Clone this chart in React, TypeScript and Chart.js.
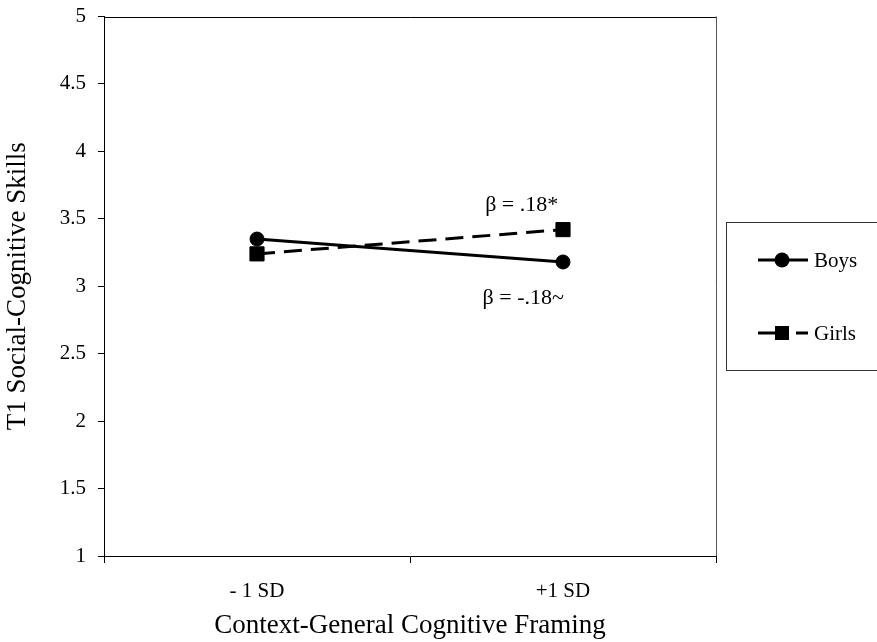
import React, { useEffect, useRef } from "react";
import { Chart, registerables } from "chart.js";

Chart.register(...registerables);

// ---- Data ----
const categories = ["- 1 SD", "+1 SD"];
const seriesLabels = ["Boys", "Girls"];
const boysValues = [3.35, 3.18];
const girlsValues = [3.24, 3.42];
const yMin = 1;
const yMax = 5;
const yStep = 0.5;
const xTitle = "Context-General Cognitive Framing";
const yTitle = "T1 Social-Cognitive Skills";
// annotation text placed in data coordinates (category index, y value)
const annotationTexts = ["β = .18*", "β = -.18~"];
const annotationX = [0.865, 0.87];
const annotationY = [3.6, 2.91];

const FONT = "'Liberation Serif', 'Times New Roman', serif";

export default function App() {
  const canvasRef = useRef<HTMLCanvasElement | null>(null);

  useEffect(() => {
    const canvas = canvasRef.current;
    if (!canvas) return;

    const framePlugin = {
      id: "frame",
      beforeDatasetsDraw(chart: any) {
        const { ctx, chartArea } = chart;
        ctx.save();
        ctx.strokeStyle = "#000";
        ctx.lineWidth = 1;
        ctx.beginPath();
        ctx.moveTo(chartArea.left, Math.round(chartArea.top) + 0.5);
        ctx.lineTo(chartArea.right + 0.5, Math.round(chartArea.top) + 0.5);
        ctx.stroke();
        ctx.strokeStyle = "#555";
        ctx.beginPath();
        ctx.moveTo(chartArea.right + 0.5, chartArea.top);
        ctx.lineTo(chartArea.right + 0.5, chartArea.bottom);
        ctx.stroke();
        ctx.restore();
      },
    };

    const annotationPlugin = {
      id: "betaText",
      afterDatasetsDraw(chart: any) {
        const { ctx, scales } = chart;
        const xs = scales.x;
        const ys = scales.y;
        ctx.save();
        ctx.fillStyle = "#000";
        ctx.font = `22px ${FONT}`;
        ctx.textAlign = "center";
        ctx.textBaseline = "middle";
        annotationTexts.forEach((t, i) => {
          const p0 = xs.getPixelForValue(0);
          const p1 = xs.getPixelForValue(1);
          const x = p0 + (p1 - p0) * annotationX[i];
          const y = ys.getPixelForValue(annotationY[i]);
          ctx.fillText(t, x, y);
        });
        ctx.restore();
      },
    };

    const legendPlugin = {
      id: "boxLegend",
      afterDraw(chart: any) {
        const { ctx } = chart;
        const boxLeft = 726.5;
        const boxTop = 222.5;
        const boxBottom = 370.5;
        ctx.save();
        ctx.strokeStyle = "#333";
        ctx.lineWidth = 1;
        ctx.strokeRect(boxLeft, boxTop, 900 - boxLeft, boxBottom - boxTop);
        const rows = [260, 333];
        chart.data.datasets.forEach((ds: any, i: number) => {
          const y = rows[i];
          const x0 = 758;
          const x1 = 808;
          const xm = 782;
          ctx.strokeStyle = "#000";
          ctx.fillStyle = "#000";
          ctx.lineWidth = 3;
          ctx.beginPath();
          if (ds.borderDash && ds.borderDash.length) {
            ctx.moveTo(x0, y);
            ctx.lineTo(xm - 4, y);
            ctx.moveTo(xm + 14, y);
            ctx.lineTo(x1, y);
          } else {
            ctx.moveTo(x0, y);
            ctx.lineTo(x1, y);
          }
          ctx.stroke();
          if (ds.pointStyle === "rect") {
            ctx.fillRect(xm - 7, y - 7, 14, 14);
          } else {
            ctx.beginPath();
            ctx.arc(xm, y, 7.5, 0, Math.PI * 2);
            ctx.fill();
          }
          ctx.font = `21px ${FONT}`;
          ctx.textAlign = "left";
          ctx.textBaseline = "middle";
          ctx.fillText(ds.label, 814, y + 1);
        });
        ctx.restore();
      },
    };

    const chart = new Chart(canvas, {
      type: "line",
      data: {
        labels: categories,
        datasets: [
          {
            label: seriesLabels[0],
            data: boysValues,
            borderColor: "#000",
            backgroundColor: "#000",
            borderWidth: 3,
            pointStyle: "circle",
            pointRadius: 7,
            pointBorderWidth: 1,
            pointBackgroundColor: "#000",
            pointBorderColor: "#000",
            tension: 0,
            fill: false,
          },
          {
            label: seriesLabels[1],
            data: girlsValues,
            borderColor: "#000",
            backgroundColor: "#000",
            borderWidth: 3,
            borderDash: [18, 9],
            pointStyle: "rect",
            pointRadius: 10,
            pointBorderWidth: 1,
            pointBackgroundColor: "#000",
            pointBorderColor: "#000",
            tension: 0,
            fill: false,
          },
        ],
      },
      options: {
        responsive: false,
        animation: false,
        devicePixelRatio: 1,
        layout: { padding: { top: 16.5, right: 161, bottom: 0, left: 0 } },
        plugins: {
          legend: { display: false },
          tooltip: { enabled: false },
        },
        scales: {
          x: {
            type: "category",
            offset: true,
            grid: {
              offset: true,
              drawOnChartArea: false,
              drawTicks: true,
              tickLength: 7,
              color: "#000",
            },
            border: { display: true, color: "#000", width: 1 },
            ticks: {
              color: "#000",
              font: { family: FONT, size: 21 },
              padding: 16,
              maxRotation: 0,
            },
            title: {
              display: true,
              text: xTitle,
              color: "#000",
              font: { family: FONT, size: 27 },
              padding: { top: 0, bottom: 0 },
            },
            afterFit: (s: any) => {
              s.height = 86;
              s.paddingLeft = 0;
              s.paddingRight = 0;
            },
          },
          y: {
            min: yMin,
            max: yMax,
            grid: {
              drawOnChartArea: false,
              drawTicks: true,
              tickLength: 6,
              color: "#000",
            },
            border: { display: true, color: "#000", width: 1 },
            ticks: {
              stepSize: yStep,
              color: "#000",
              font: { family: FONT, size: 21 },
              padding: 12,
              callback: (v: any) => String(v),
            },
            title: {
              display: true,
              text: yTitle,
              color: "#000",
              font: { family: FONT, size: 27 },
              padding: { top: 2, bottom: 0 },
            },
            afterFit: (s: any) => {
              s.width = 104;
              s.paddingTop = 0;
              s.paddingBottom = 0;
            },
          },
        },
      },
      plugins: [framePlugin, annotationPlugin, legendPlugin],
    });

    return () => chart.destroy();
  }, []);

  return (
    <div style={{ position: "absolute", left: 0, top: 0, width: 877, height: 642, background: "#fff" }}>
      <canvas ref={canvasRef} width={877} height={642} style={{ display: "block" }} />
    </div>
  );
}
